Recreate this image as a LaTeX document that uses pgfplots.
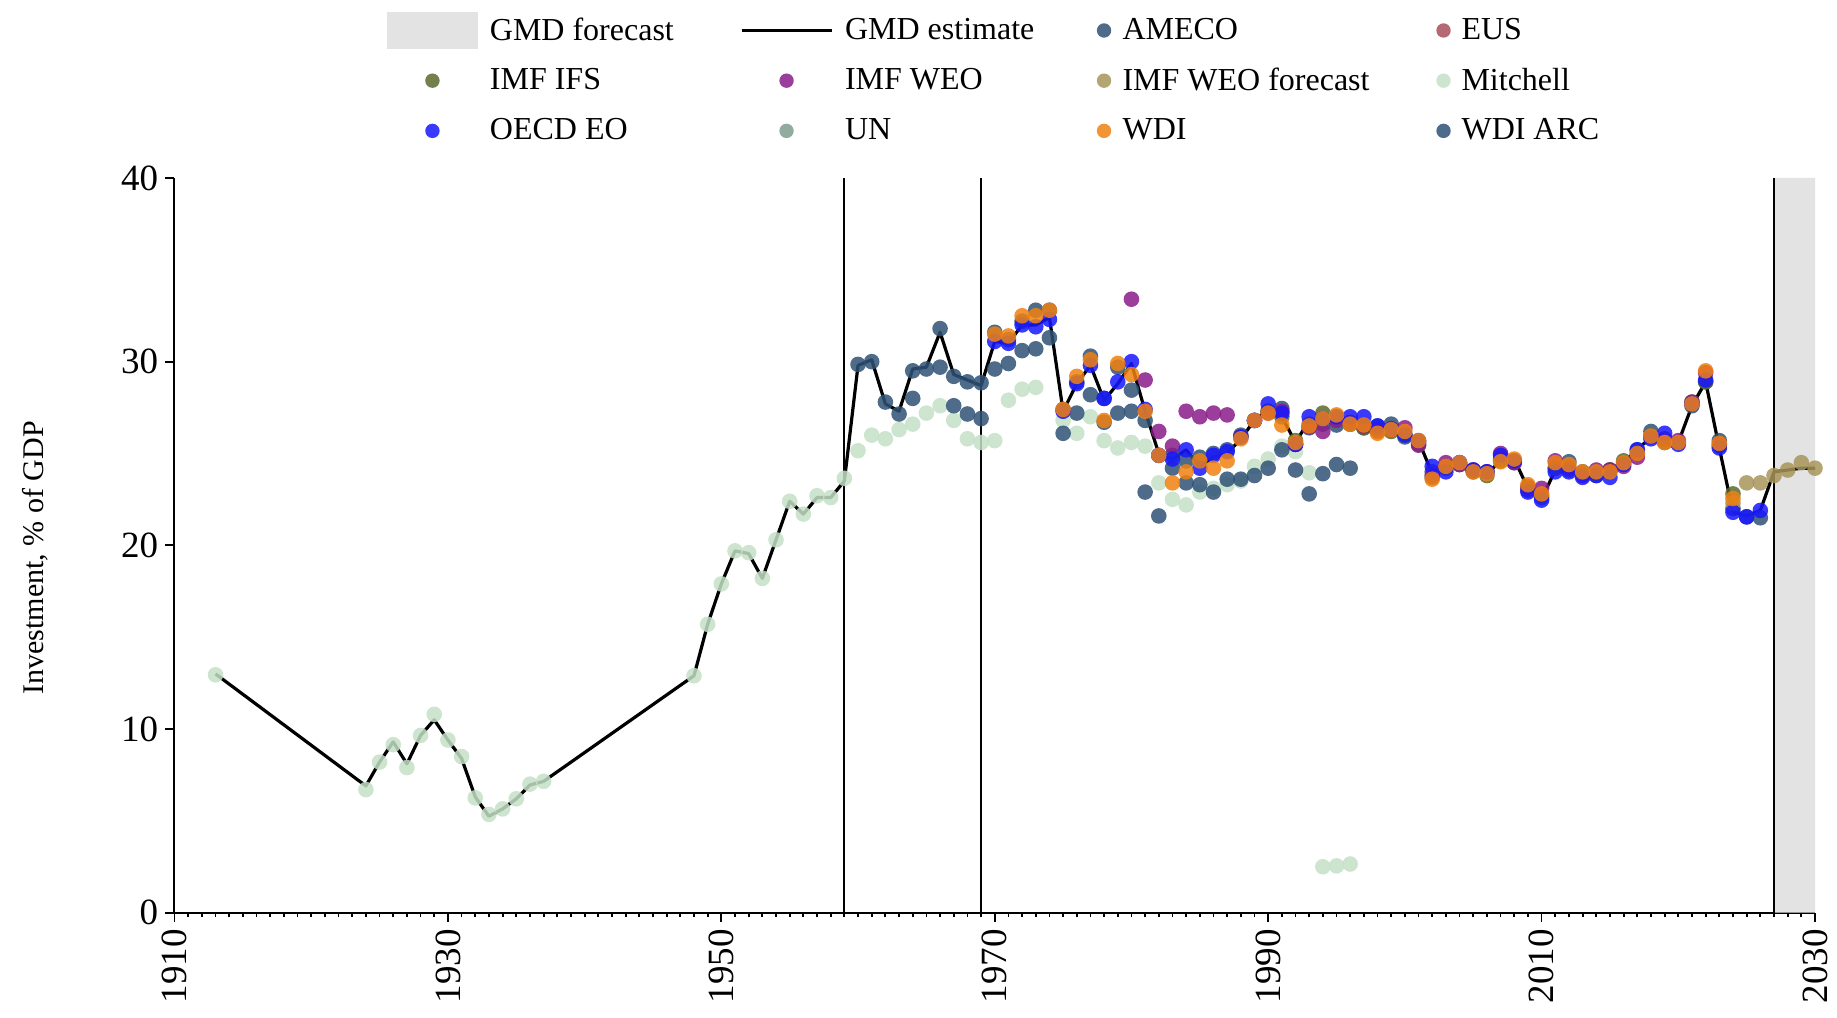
\documentclass[border=0pt]{standalone}
\usepackage{fontspec}
\setmainfont{Liberation Serif}
\usepackage{pgfplots}
\pgfplotsset{compat=1.18}

\definecolor{cShade}{HTML}{E3E3E3}
\definecolor{cAmeco}{HTML}{2F5276}
\definecolor{cEus}{HTML}{A8505A}
\definecolor{cIfs}{HTML}{5A6A2C}
\definecolor{cWeo}{HTML}{8A1B8A}
\definecolor{cWeoF}{HTML}{A8955A}
\definecolor{cMitch}{HTML}{C4E0C6}
\definecolor{cOecd}{HTML}{1717FF}
\definecolor{cUn}{HTML}{7E9C8E}
\definecolor{cWdi}{HTML}{F08010}

\pgfplotsset{
  dots/.style={only marks, mark=*, mark size=3.9pt, forget plot,
    mark options={fill=#1, draw=#1, fill opacity=0.85, draw opacity=0}},
  % legend image: cell width, marker position, colour
  legdot/.style n args={3}{legend image code/.code={
    \path[draw=none, fill=none] (0pt,-9.25pt) rectangle (#1,9.25pt);
    \fill[#3, draw=none, fill opacity=0.85] (#2,0pt) circle[radius=3.6pt];}},
}

\begin{document}
\begin{tikzpicture}
\begin{axis}[
  name=ax,
  scale only axis, width=820.25pt, height=367.35pt,
  xmin=1910, xmax=2030, ymin=0, ymax=40,
  axis x line*=bottom, axis y line*=left,
  axis line style={line width=1pt, -},
  xtick={1910,1930,...,2030},
  minor xtick={1910,1911,...,2030},
  ytick={0,10,...,40},
  tick align=outside,
  major tick length=4.7pt, minor tick length=2.2pt,
  every tick/.style={black, line width=0.9pt},
  tick label style={font=\fontsize{18.5}{20}\selectfont},
  x tick label style={rotate=90, anchor=east, /pgf/number format/1000 sep={}},
  /pgf/number format/assume math mode=true,
  ylabel={Investment, \% of GDP},
  ylabel style={font=\fontsize{15}{18}\selectfont, at={(axis description cs:-0.085,0.483)}, anchor=center},
  legend columns=4,
  legend cell align=left,
  legend style={at={(axis description cs:0.1295,1)}, anchor=north west, yshift=83pt,
    draw=none, fill=none, inner sep=0pt, outer sep=0pt, column sep=0pt, row sep=6.6pt,
    font=\fontsize{16}{19}\selectfont, nodes={inner sep=0pt, outer sep=0pt}},
]
\coordinate (bl) at (rel axis cs:0,0);
\coordinate (tr) at (rel axis cs:1,1);

% forecast period
\addplot[fill=cShade, draw=none, forget plot] coordinates {(2027,0) (2027,40) (2030,40) (2030,0)} \closedcycle;
\addplot[black, line width=0.5pt, forget plot] coordinates {(2027,0) (2027,40)};
\addplot[black, line width=1pt, forget plot] coordinates {(1959,0) (1959,40)};
\addplot[black, line width=1pt, forget plot] coordinates {(1969,0) (1969,40)};

% Mitchell
\addplot[dots=cMitch] coordinates {
(1913,12.95) (1924,6.7) (1925,8.2) (1926,9.15) (1927,7.9) (1928,9.65) (1929,10.8)
(1930,9.4) (1931,8.5) (1932,6.25) (1933,5.35) (1934,5.65) (1935,6.2) (1936,7.0) (1937,7.15)
(1948,12.9) (1949,15.7) (1950,17.9) (1951,19.7) (1952,19.6) (1953,18.2) (1954,20.3)
(1955,22.4) (1956,21.7) (1957,22.7) (1958,22.6) (1959,23.65) (1960,25.15) (1961,26.0)
(1962,25.8) (1963,26.3) (1964,26.6) (1965,27.2) (1966,27.6) (1967,26.8) (1968,25.8)
(1969,25.6) (1970,25.7) (1971,27.9) (1972,28.5) (1973,28.6) (1975,26.8) (1976,26.1)
(1977,27.0) (1978,25.7) (1979,25.3) (1980,25.6) (1981,25.4) (1982,23.4) (1983,22.5)
(1984,22.2) (1985,22.9) (1986,23.1) (1987,23.3) (1988,23.5) (1989,24.3) (1990,24.7)
(1991,25.4) (1992,25.1) (1993,23.95) (1994,2.5) (1995,2.55) (1996,2.65)
};

% AMECO
\addplot[dots=cAmeco] coordinates {
(1960,29.85) (1961,30.0) (1962,27.8) (1963,27.15) (1964,29.5) (1965,29.6) (1966,31.8)
(1967,29.2) (1968,28.9) (1969,28.85) (1970,31.6) (1971,31.2) (1972,32.2) (1973,32.8)
(1974,32.8) (1975,27.4) (1976,28.9) (1977,30.3) (1978,28.0) (1979,29.7) (1980,28.45)
(1981,26.8) (1982,24.9) (1983,24.9) (1984,24.6) (1985,24.8) (1986,25.0) (1987,25.2)
(1988,26.0) (1989,26.8) (1990,27.3) (1991,27.45) (1992,25.5) (1993,26.4) (1994,26.6)
(1995,26.55) (1996,26.6) (1997,26.4) (1998,26.5) (1999,26.6) (2000,25.9) (2001,25.6)
(2002,24.0) (2003,24.3) (2004,24.5) (2005,24.1) (2006,24.0) (2007,24.7) (2008,24.5)
(2009,23.0) (2010,22.6) (2011,24.2) (2012,24.55) (2013,24.0) (2014,23.9) (2015,24.1)
(2016,24.5) (2017,25.2) (2018,26.2) (2019,25.6) (2020,25.6) (2021,27.6) (2022,28.9)
(2023,25.7) (2024,22.0) (2025,21.55) (2026,21.5)
};

% WDI ARC
\addplot[dots=cAmeco] coordinates {
(1964,28.0) (1966,29.7) (1967,27.6) (1968,27.15) (1969,26.9) (1970,29.6) (1971,29.9)
(1972,30.6) (1973,30.7) (1974,31.3) (1975,26.1) (1976,27.2) (1977,28.2) (1978,26.7)
(1979,27.2) (1980,27.3) (1981,22.9) (1982,21.6) (1983,24.2) (1984,23.4) (1985,23.3)
(1986,22.9) (1987,23.6) (1988,23.6) (1989,23.8) (1990,24.2) (1991,25.2) (1992,24.1)
(1993,22.8) (1994,23.9) (1995,24.4) (1996,24.2)
};

% IMF IFS
\addplot[dots=cIfs] coordinates {
(1990,27.3) (1991,27.0) (1992,25.7) (1993,26.6) (1994,27.2) (1995,27.0) (1996,26.6)
(1997,26.4) (1998,26.2) (1999,26.2) (2000,26.0) (2001,25.5) (2002,23.7) (2003,24.2)
(2004,24.4) (2005,24.0) (2006,23.8) (2007,24.6) (2008,24.6) (2009,23.2) (2010,22.7)
(2011,24.2) (2012,24.1) (2013,23.9) (2014,23.8) (2015,24.1) (2016,24.6) (2017,25.0)
(2018,25.95) (2019,25.7) (2020,25.6) (2021,27.8) (2022,28.9) (2023,25.4) (2024,22.8)
};

% IMF WEO
\addplot[dots=cWeo] coordinates {
(1980,33.4) (1981,29.0) (1982,26.2) (1983,25.4) (1984,27.3) (1985,27.0) (1986,27.2)
(1987,27.1) (1988,25.9) (1989,26.8) (1990,27.2) (1991,27.3) (1992,25.5) (1993,26.45)
(1994,26.2) (1995,26.8) (1996,26.7) (1997,26.5) (1998,26.3) (1999,26.3) (2000,26.4)
(2001,25.45) (2002,23.8) (2003,24.5) (2004,24.4) (2005,24.1) (2006,24.0) (2007,25.0)
(2008,24.5) (2009,23.1) (2010,23.1) (2011,24.6) (2012,24.2) (2013,23.8) (2014,24.1)
(2015,24.1) (2016,24.3) (2017,24.8) (2018,25.9) (2019,25.8) (2020,25.7) (2021,27.8)
(2022,29.4) (2023,25.5)
};

% IMF WEO forecast
\addplot[dots=cWeoF] coordinates {
(2024,22.3) (2025,23.4) (2026,23.4) (2027,23.8) (2028,24.1) (2029,24.5) (2030,24.2)
};

% OECD EO
\addplot[dots=cOecd] coordinates {
(1970,31.1) (1971,31.0) (1972,32.0) (1973,31.9) (1974,32.3) (1975,27.3) (1976,28.8)
(1977,29.8) (1978,28.0) (1979,28.9) (1980,30.0) (1981,27.4) (1982,24.9) (1983,24.7)
(1984,25.2) (1985,24.2) (1986,24.9) (1987,25.1) (1988,25.9) (1989,26.8) (1990,27.7)
(1991,27.2) (1992,25.5) (1993,27.0) (1994,26.9) (1995,27.0) (1996,27.0) (1997,27.0)
(1998,26.5) (1999,26.35) (2000,26.0) (2001,25.7) (2002,24.3) (2003,24.0) (2004,24.5)
(2005,24.1) (2006,24.0) (2007,24.9) (2008,24.6) (2009,22.9) (2010,22.46) (2011,24.0)
(2012,24.0) (2013,23.7) (2014,23.8) (2015,23.7) (2016,24.4) (2017,25.2) (2018,25.8)
(2019,26.1) (2020,25.5) (2021,27.7) (2022,29.0) (2023,25.3) (2024,21.8) (2025,21.55)
(2026,21.9)
};

% GMD estimate
\addplot[black, line width=1.6pt, line join=round, forget plot] coordinates {
(1913,13.0) (1924,6.9) (1925,8.2) (1926,9.3) (1927,8.1) (1928,9.65) (1929,10.5)
(1930,9.4) (1931,8.4) (1932,6.3) (1933,5.25) (1934,5.65) (1935,6.2) (1936,6.95) (1937,7.15)
(1948,12.9) (1949,15.7) (1950,17.9) (1951,19.7) (1952,19.55) (1953,18.2) (1954,20.3)
(1955,22.4) (1956,21.7) (1957,22.6) (1958,22.6) (1959,23.5) (1960,29.8) (1961,30.1)
(1962,27.7) (1963,27.3) (1964,29.6) (1965,29.7) (1966,31.6) (1967,29.3) (1968,29.0)
(1969,28.7) (1970,31.1) (1971,31.0) (1972,32.0) (1973,32.0) (1974,32.4) (1975,27.3)
(1976,28.8) (1977,29.8) (1978,27.9) (1979,28.8) (1980,29.9) (1981,27.3) (1982,25.0)
(1983,24.7) (1984,25.2) (1985,24.3) (1986,24.8) (1987,25.0) (1988,25.8) (1989,26.8)
(1990,27.4) (1991,27.0) (1992,25.6) (1993,26.8) (1994,26.9) (1995,26.9) (1996,26.7)
(1997,26.5) (1998,26.3) (1999,26.2) (2000,26.0) (2001,25.7) (2002,23.9) (2003,24.3)
(2004,24.4) (2005,24.0) (2006,23.9) (2007,24.6) (2008,24.7) (2009,23.1) (2010,22.5)
(2011,24.1) (2012,24.1) (2013,23.9) (2014,23.9) (2015,24.1) (2016,24.5) (2017,25.2)
(2018,25.9) (2019,25.8) (2020,25.6) (2021,27.6) (2022,28.9) (2023,25.3) (2024,21.8)
(2025,21.6) (2026,21.9) (2027,24.0) (2028,24.1) (2029,24.2) (2030,24.2)
};

% WDI
\addplot[dots=cWdi] coordinates {
(1970,31.5) (1971,31.4) (1972,32.5) (1973,32.5) (1974,32.8) (1975,27.4) (1976,29.2)
(1977,30.1) (1978,26.8) (1979,29.9) (1980,29.3) (1981,27.3) (1982,24.9) (1983,23.4)
(1984,24.0) (1985,24.6) (1986,24.2) (1987,24.6) (1988,25.8) (1989,26.8) (1990,27.2)
(1991,26.55) (1992,25.6) (1993,26.5) (1994,26.9) (1995,27.1) (1996,26.6) (1997,26.55)
(1998,26.1) (1999,26.3) (2000,26.2) (2001,25.7) (2002,23.6) (2003,24.3) (2004,24.5)
(2005,24.0) (2006,23.9) (2007,24.55) (2008,24.7) (2009,23.3) (2010,22.8) (2011,24.5)
(2012,24.4) (2013,24.0) (2014,24.0) (2015,24.0) (2016,24.5) (2017,25.0) (2018,25.95)
(2019,25.6) (2020,25.6) (2021,27.7) (2022,29.5) (2023,25.55) (2024,22.55)
};

% legend, row by row
\addlegendimage{legend image code/.code={\path[draw=none, fill=none] (0pt,-9.25pt) rectangle (51.5pt,9.25pt);
  \fill[cShade, draw=none] (0pt,-9.25pt) rectangle (45.5pt,9.25pt);}}
\addlegendentry{\makebox[125pt][l]{GMD forecast}}
\addlegendimage{legend image code/.code={\path[draw=none, fill=none] (0pt,-9.25pt) rectangle (51.75pt,9.25pt);
  \draw[black, line width=1.6pt] (0pt,0pt) -- (45pt,0pt);}}
\addlegendentry{\makebox[123.25pt][l]{GMD estimate}}
\addlegendimage{legdot={15.5pt}{6.25pt}{cAmeco}}
\addlegendentry{\makebox[154.5pt][l]{AMECO}}
\addlegendimage{legdot={15pt}{6pt}{cEus}}
\addlegendentry{EUS}
\addlegendimage{legdot={51.5pt}{22.75pt}{cIfs}}
\addlegendentry{\makebox[125pt][l]{IMF IFS}}
\addlegendimage{legdot={51.75pt}{22.5pt}{cWeo}}
\addlegendentry{\makebox[123.25pt][l]{IMF WEO}}
\addlegendimage{legdot={15.5pt}{6.25pt}{cWeoF}}
\addlegendentry{\makebox[154.5pt][l]{IMF WEO forecast}}
\addlegendimage{legdot={15pt}{6pt}{cMitch}}
\addlegendentry{Mitchell}
\addlegendimage{legdot={51.5pt}{22.75pt}{cOecd}}
\addlegendentry{\makebox[125pt][l]{OECD EO}}
\addlegendimage{legdot={51.75pt}{22.5pt}{cUn}}
\addlegendentry{\makebox[123.25pt][l]{UN}}
\addlegendimage{legdot={15.5pt}{6.25pt}{cWdi}}
\addlegendentry{\makebox[154.5pt][l]{WDI}}
\addlegendimage{legdot={15pt}{6pt}{cAmeco}}
\addlegendentry{WDI ARC}
\end{axis}
\pgfresetboundingbox
\path ([shift={(-87.25pt,-52.65pt)}]bl) rectangle ([shift={(11pt,89pt)}]tr);
\end{tikzpicture}
\end{document}
